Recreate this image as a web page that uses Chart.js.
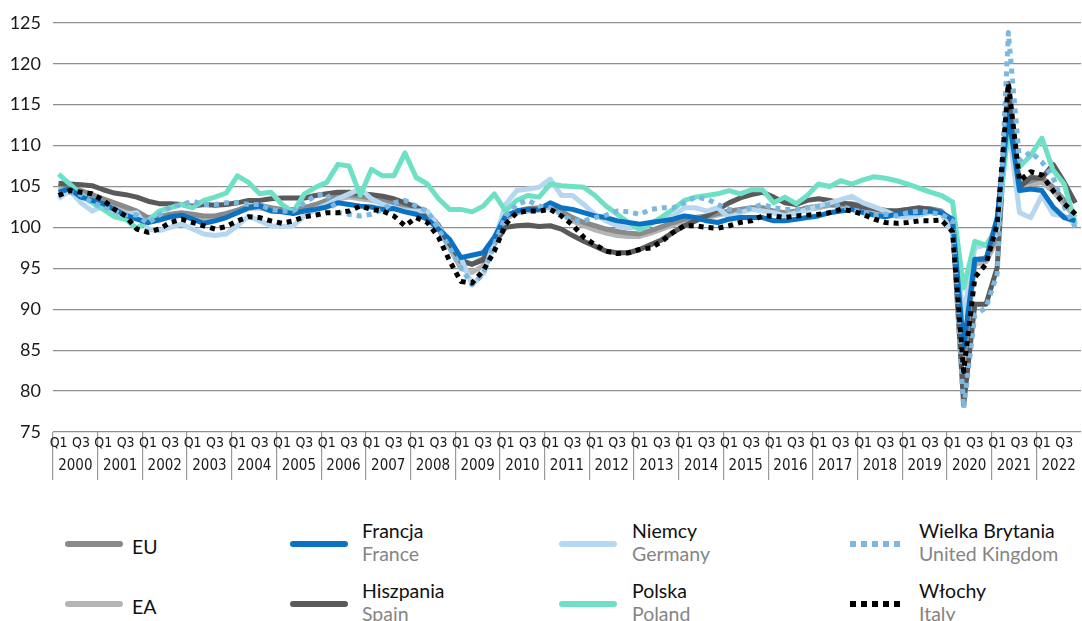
<!DOCTYPE html>
<html lang="pl">
<head>
<meta charset="utf-8">
<script src="https://cdn.jsdelivr.net/npm/chart.js@4.4.1/dist/chart.umd.min.js"></script>
<style>
  body { margin: 0; background: #fff; width: 1082px; height: 621px; position: relative; overflow: hidden; font-family: Lato, 'Noto Sans', sans-serif; }
  #wrap { position: absolute; left: 0; top: 0; width: 1082px; height: 500px; }
  .sw { position: absolute; width: 58px; height: 6px; border-radius: 3px; }
  .txt { position: absolute; font-size: 19.5px; line-height: 23px; color: #111; white-space: nowrap; }
  .txt .en { color: #858585; display: block; }
</style>
</head>
<body>
<div id="wrap"><canvas id="chart"></canvas></div>
<div id="legend"></div>
<script>
// --- data: quarterly index, 2000 Q1 .. 2022 Q4 ---
const YEARS = ['2000', '2001', '2002', '2003', '2004', '2005', '2006', '2007', '2008', '2009', '2010', '2011',
  '2012', '2013', '2014', '2015', '2016', '2017', '2018', '2019', '2020', '2021', '2022'];
const QUARTERS = ['Q1', 'Q2', 'Q3', 'Q4'];
const Y_TICKS = [75, 80, 85, 90, 95, 100, 105, 110, 115, 120, 125];

const EU = [105.3, 105.0, 104.5, 104.0, 103.5, 103.0, 102.5, 102.0, 101.2, 101.3, 101.6, 101.8, 101.6, 101.4, 101.4, 101.7, 102.1, 102.6, 102.7, 102.4, 102.2, 102.2, 102.4, 102.8,
  103.3, 103.8, 104.0, 103.8, 103.6, 103.3, 103.0, 102.8, 102.5, 101.8, 100.3, 98.0, 95.8, 95.5, 96.2, 98.5, 101.3, 102.0, 102.3, 102.4, 102.8, 102.0, 101.2,
  100.6, 100.2, 99.8, 99.5, 99.3, 99.2, 99.6, 100.1, 100.6, 101.0, 101.2, 101.4, 101.7, 102.0, 102.2, 102.4, 102.4, 102.0, 101.8, 102.0, 102.4, 102.6, 102.8,
  102.8, 102.9, 102.6, 102.3, 102.1, 102.0, 102.2, 102.3, 102.3, 102.0, 100.6, 84.5, 96.0, 96.3, 99.0, 115.0, 105.3, 105.7, 106.1, 104.9, 103.3, 101.6];
const EA = [105.0, 104.7, 104.2, 103.7, 103.2, 102.7, 102.2, 101.7, 101.0, 101.0, 101.3, 101.5, 101.3, 101.1, 101.1, 101.4, 101.8, 102.3, 102.4, 102.1, 101.9, 101.9, 102.1, 102.5,
  103.0, 103.5, 103.7, 103.5, 103.3, 103.0, 102.8, 102.5, 102.2, 101.5, 99.8, 97.5, 95.0, 94.5, 95.3, 98.0, 101.0, 101.8, 102.0, 102.1, 102.5, 101.7, 100.8,
  100.2, 99.7, 99.3, 99.0, 98.9, 98.9, 99.3, 99.8, 100.3, 100.8, 101.0, 101.2, 101.5, 101.8, 102.0, 102.2, 102.2, 101.8, 101.6, 101.8, 102.2, 102.4, 102.7,
  102.6, 102.7, 102.4, 102.1, 101.9, 101.8, 102.0, 102.1, 102.1, 101.8, 100.3, 83.5, 95.5, 95.8, 98.5, 115.5, 104.8, 105.2, 105.5, 104.4, 102.8, 101.2];
const FRANCJA = [104.3, 104.7, 103.7, 103.3, 102.9, 102.2, 101.5, 101.0, 100.6, 100.9, 101.3, 101.5, 101.0, 100.5, 100.8, 101.2, 101.8, 102.4, 102.6, 102.0, 101.9, 101.7, 102.0, 102.2,
  102.5, 103.0, 102.8, 102.6, 102.5, 102.2, 102.3, 101.9, 101.6, 101.0, 99.8, 98.5, 96.3, 96.6, 96.9, 98.8, 101.4, 102.0, 102.2, 102.2, 103.0, 102.4, 102.2,
  101.8, 101.4, 101.2, 100.8, 100.6, 100.4, 100.6, 100.8, 101.0, 101.4, 101.2, 100.8, 100.6, 101.0, 101.2, 101.2, 101.2, 100.8, 100.8, 101.0, 101.2, 101.4, 101.8,
  102.0, 102.2, 101.8, 101.5, 101.3, 101.6, 101.8, 101.8, 102.0, 101.8, 101.0, 85.4, 96.1, 96.1, 101.2, 113.9, 104.5, 104.7, 104.5, 102.5, 101.2, 100.8];
const HISZPANIA = [105.4, 105.3, 105.2, 105.1, 104.6, 104.2, 104.0, 103.7, 103.2, 102.9, 102.9, 102.8, 102.6, 102.8, 102.7, 102.8, 103.0, 103.3, 103.3, 103.5, 103.6, 103.6, 103.6, 103.9,
  104.1, 104.3, 104.3, 104.1, 104.0, 103.8, 103.5, 103.0, 102.5, 101.5, 100.0, 98.0, 96.0, 95.5, 96.0, 98.0, 100.0, 100.2, 100.3, 100.1, 100.2, 99.8, 99.0,
  98.3, 97.7, 97.1, 96.9, 96.9, 97.3, 97.9, 98.5, 99.4, 100.2, 100.8, 101.4, 102.2, 103.0, 103.6, 104.0, 104.3, 103.7, 103.0, 102.8, 103.3, 103.5, 103.3,
  103.0, 102.8, 102.5, 102.3, 102.0, 102.0, 102.2, 102.4, 102.2, 101.8, 100.5, 78.3, 90.6, 90.6, 95.1, 117.6, 104.9, 106.1, 106.0, 107.7, 105.5, 103.0];
const NIEMCY = [103.5, 104.5, 103.0, 102.0, 102.6, 101.4, 101.6, 101.8, 99.8, 99.6, 100.0, 100.4, 99.8, 99.2, 99.0, 99.2, 100.2, 101.4, 100.8, 100.2, 100.1, 100.2, 101.4, 102.2,
  102.8, 103.5, 104.1, 104.7, 103.5, 102.8, 102.4, 102.0, 102.0, 102.0, 100.0, 98.5, 96.3, 93.0, 94.3, 98.3, 102.8, 104.5, 104.7, 104.9, 105.9, 103.9, 103.9,
  102.8, 101.6, 100.8, 100.2, 99.9, 100.2, 100.6, 101.0, 101.4, 102.4, 102.4, 102.0, 102.4, 101.2, 101.8, 102.2, 102.0, 101.8, 101.4, 101.8, 102.2, 102.6, 103.0,
  103.4, 103.8, 103.0, 102.5, 102.0, 101.4, 101.2, 101.5, 101.8, 101.8, 99.2, 89.3, 97.5, 97.9, 99.2, 112.3, 101.8, 101.2, 103.9, 101.6, 101.4, 100.4];
const POLSKA = [106.5, 105.3, 104.1, 103.0, 102.2, 101.3, 101.0, 99.9, 100.8, 102.0, 102.4, 102.8, 102.4, 103.3, 103.7, 104.2, 106.3, 105.5, 104.1, 104.3, 102.8, 101.9, 104.1, 104.9,
  105.5, 107.7, 107.5, 103.9, 107.1, 106.3, 106.3, 109.1, 106.1, 105.3, 103.5, 102.2, 102.2, 101.9, 102.6, 104.1, 102.0, 103.3, 103.9, 103.7, 105.3, 105.1, 105.0,
  104.9, 103.9, 102.6, 101.6, 100.6, 99.7, 100.4, 101.3, 102.2, 103.3, 103.7, 103.9, 104.1, 104.5, 104.1, 104.6, 104.6, 103.0, 103.7, 102.9, 103.9, 105.3, 105.0,
  105.7, 105.3, 105.8, 106.2, 106.0, 105.7, 105.3, 104.8, 104.3, 103.9, 103.1, 92.6, 98.3, 97.8, 100.0, 112.0, 107.4, 108.8, 110.9, 107.0, 105.3, 100.4];
const WIELKA_BRYTANIA = [104.0, 104.3, 104.0, 103.0, 102.5, 102.0, 101.5, 101.5, 100.5, 101.5, 102.5, 102.8, 103.2, 102.8, 102.8, 103.0, 103.0, 102.8, 102.8, 102.2, 102.0, 102.0, 103.0, 103.9,
  104.1, 101.8, 101.6, 101.4, 101.6, 102.2, 103.0, 103.3, 102.6, 102.0, 99.8, 97.5, 95.1, 93.0, 94.3, 97.9, 101.4, 102.8, 103.3, 102.6, 102.4, 101.6, 100.8,
  100.8, 101.2, 101.5, 102.0, 101.9, 101.6, 102.2, 102.4, 102.4, 103.0, 103.7, 103.5, 102.8, 102.2, 102.0, 102.4, 102.8, 102.4, 102.2, 102.2, 102.4, 102.6, 102.8,
  102.6, 102.2, 101.8, 101.5, 101.6, 101.4, 101.8, 102.0, 101.8, 101.6, 100.8, 77.9, 89.3, 90.2, 94.3, 123.8, 108.2, 109.2, 108.0, 106.1, 102.5, 100.0];
const WLOCHY = [103.9, 104.5, 104.3, 104.1, 103.3, 102.2, 101.4, 99.8, 99.4, 99.8, 100.6, 101.0, 100.6, 100.2, 99.8, 100.1, 100.8, 101.3, 101.2, 100.8, 100.5, 100.8, 101.3, 101.5,
  101.8, 101.8, 102.0, 102.6, 102.2, 102.0, 101.4, 100.2, 101.2, 100.6, 98.8, 95.9, 93.4, 93.2, 94.7, 97.1, 100.4, 101.8, 102.0, 102.0, 102.2, 101.4, 100.3,
  98.8, 97.9, 97.1, 96.8, 96.9, 97.3, 97.5, 98.3, 99.4, 100.2, 100.2, 100.0, 99.9, 100.2, 100.6, 100.8, 101.4, 101.4, 101.2, 101.4, 101.5, 101.6, 101.8,
  102.2, 102.0, 101.6, 101.0, 100.6, 100.5, 100.6, 100.8, 100.8, 100.9, 99.5, 82.4, 93.9, 95.5, 100.4, 117.6, 105.7, 106.8, 106.4, 104.5, 102.9, 101.6];

// --- series: Polish name, English name, values; drawn first = on top ---
const SERIES = [
  { pl: 'Włochy', en: 'Italy', data: WLOCHY },
  { pl: 'Wielka Brytania', en: 'United Kingdom', data: WIELKA_BRYTANIA },
  { pl: 'Francja', en: 'France', data: FRANCJA },
  { pl: 'Polska', en: 'Poland', data: POLSKA },
  { pl: 'Niemcy', en: 'Germany', data: NIEMCY },
  { pl: 'Hiszpania', en: 'Spain', data: HISZPANIA },
  { pl: 'EU', en: '', data: EU },
  { pl: 'EA', en: '', data: EA }
];

// styles, keyed by Polish name
const STYLE = {
  'EU': { color: '#8a8a8a' },
  'EA': { color: '#b5b5b5' },
  'Francja': { color: '#0a72c2' },
  'Hiszpania': { color: '#5a5a5a' },
  'Niemcy': { color: '#b6d7ef' },
  'Polska': { color: '#6ee0c6' },
  'Wielka Brytania': { color: '#7ab8e2', dotted: true },
  'Włochy': { color: '#000000', dotted: true }
};

const labels = YEARS.flatMap(y => QUARTERS.map(q => q + ' ' + y));
const narrow = "'Liberation Sans Narrow', 'DejaVu Sans Condensed', 'Roboto Condensed', Roboto, sans-serif";

new Chart(document.getElementById('chart'), {
  type: 'line',
  data: {
    labels: labels,
    datasets: SERIES.map(s => ({
      label: s.pl,
      data: s.data,
      borderColor: STYLE[s.pl].color,
      borderWidth: 5,
      borderDash: STYLE[s.pl].dotted ? [5, 5] : [],
      borderCapStyle: 'butt',
      borderJoinStyle: 'round',
      pointRadius: 0,
      tension: 0,
      fill: false
    }))
  },
  options: {
    responsive: true,
    maintainAspectRatio: false,
    animation: false,
    layout: { padding: { top: 22, right: 1, bottom: 16, left: 0 } },
    plugins: { legend: { display: false }, tooltip: { enabled: false } },
    scales: {
      x: {
        offset: true,
        grid: {
          offset: true,
          drawOnChartArea: false,
          tickLength: 48,
          lineWidth: 1.2,
          color: ctx => (ctx.index !== undefined && ctx.index % 4 === 0) ? '#9a9a9a' : 'rgba(0,0,0,0)'
        },
        border: { display: false },
        ticks: {
          autoSkip: false,
          maxRotation: 0,
          padding: -45,
          color: '#1a1a1a',
          font: { family: narrow, size: 14 },
          callback: (v, i) => (i % 4 === 0 ? 'Q1' : (i % 4 === 2 ? 'Q3' : ''))
        },
        afterFit: s => { s.height = 22; }
      },
      x2: {
        type: 'category',
        position: 'bottom',
        labels: YEARS,
        offset: true,
        grid: { display: false, drawTicks: false },
        border: { display: false },
        ticks: { autoSkip: false, maxRotation: 0, padding: 3, color: '#1a1a1a', font: { family: narrow, size: 15 } },
        afterFit: s => { s.height = 30; }
      },
      y: {
        min: 75,
        max: 125,
        afterBuildTicks: s => { s.ticks = Y_TICKS.map(v => ({ value: v })); },
        grid: { color: '#8f8f8f', lineWidth: 1.2, drawTicks: false },
        border: { display: false },
        ticks: { padding: 12, color: '#1a1a1a', font: { family: "Lato, 'Noto Sans', sans-serif", size: 18 } },
        afterFit: s => { s.width = 53; }
      }
    }
  }
});

// --- HTML legend: Polish name with English name below ---
const LEGEND_ORDER = ['EU', 'EA', 'Francja', 'Hiszpania', 'Niemcy', 'Polska', 'Wielka Brytania', 'Włochy'];
const COL_SWATCH_X = [65, 290, 559, 850];
const COL_TEXT_X = [132, 362, 632, 919];
const ROW_SWATCH_Y = [544, 604];
const legend = document.getElementById('legend');
LEGEND_ORDER.forEach((name, k) => {
  const s = SERIES.find(d => d.pl === name);
  const st = STYLE[name];
  const col = Math.floor(k / 2), row = k % 2;
  const sw = document.createElement('div');
  sw.className = 'sw';
  sw.style.left = COL_SWATCH_X[col] + 'px';
  sw.style.top = (ROW_SWATCH_Y[row] - 3) + 'px';
  if (st.dotted) {
    sw.style.width = '52px';
    sw.style.borderRadius = '0';
    sw.style.background = `repeating-linear-gradient(to right, ${st.color} 0 6px, transparent 6px 11px)`;
  } else {
    sw.style.background = st.color;
  }
  legend.appendChild(sw);
  const t = document.createElement('div');
  t.className = 'txt';
  t.style.left = COL_TEXT_X[col] + 'px';
  if (s.en) {
    t.style.top = (ROW_SWATCH_Y[row] - 25) + 'px';
    t.innerHTML = s.pl + '<span class="en">' + s.en + '</span>';
  } else {
    t.style.top = (ROW_SWATCH_Y[row] - 9) + 'px';
    t.textContent = s.pl;
  }
  legend.appendChild(t);
});
</script>
</body>
</html>
